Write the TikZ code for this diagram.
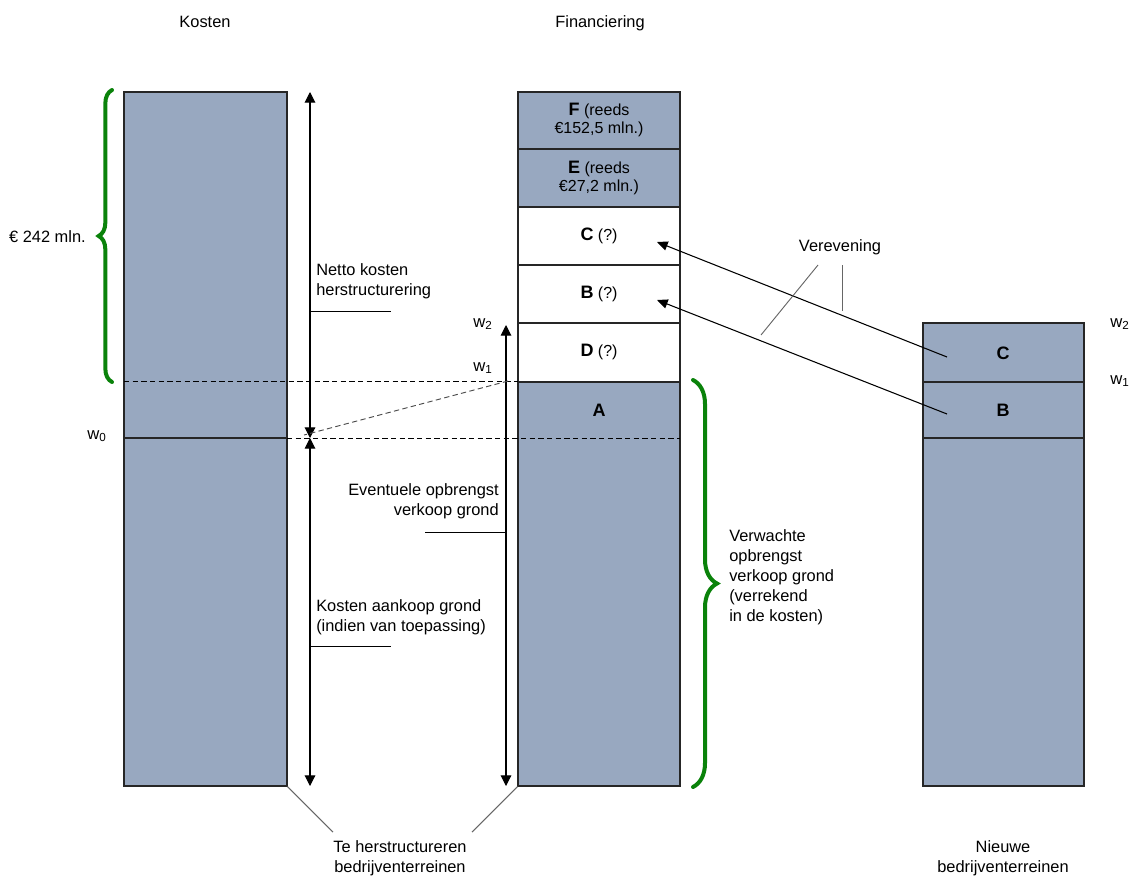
\documentclass[tikz,border=0pt]{standalone}
\usepackage{fontspec}
\setmainfont{Liberation Sans}
\usetikzlibrary{arrows.meta,fit,decorations.pathreplacing}
\definecolor{barfill}{RGB}{152,168,192}
\definecolor{bracegreen}{RGB}{10,130,10}
\begin{document}
\begin{tikzpicture}[x=0.75pt,y=-0.75pt,
  seg/.style={draw=black!85, line width=0.8pt, inner sep=0pt, fill=barfill},
  wseg/.style={seg, fill=white},
  lbl/.style={font=\fontsize{12.3}{15}\selectfont, inner sep=0pt},
  boxlbl/.style={font=\fontsize{12}{13.5}\selectfont, inner sep=0pt, align=center},
  wlbl/.style={font=\fontsize{12.5}{14}\selectfont, inner sep=0pt, anchor=west},
  dimarrow/.style={line width=0.8pt, {Triangle[length=8pt,width=8pt]}-{Triangle[length=8pt,width=8pt]}},
  onearrow/.style={line width=0.8pt, -{Triangle[length=8pt,width=7pt]}},
  leader/.style={line width=0.7pt},
  gleader/.style={line width=0.8pt, draw=black!60},
  dsh/.style={dash pattern=on 4pt off 2.5pt, line width=0.7pt},
  brc/.style={draw=bracegreen, line width=3pt, decorate, line cap=round}
]
\useasboundingbox (0,0) rectangle (1134,879);

% titles
\node[lbl, anchor=base] (tkost) at (205,27) {Kosten};
\node[lbl, anchor=base] (tfin) at (600,27) {Financiering};

% Kosten bar
\node[seg, fit={(124,92) (287,786)}] (kost) {};
\coordinate (k381) at (124,381);
\coordinate (k438l) at (124,438);
\coordinate (k438r) at (287,438);
\draw[line width=0.8pt, draw=black!85] (k438l) -- (k438r);

% Financiering bar
\node[seg, fit={(518,92) (680,149)}] (fF) {};
\node[seg, fit={(518,149) (680,207)}] (fE) {};
\node[wseg, fit={(518,207) (680,265)}] (fC) {};
\node[wseg, fit={(518,265) (680,323)}] (fB) {};
\node[wseg, fit={(518,323) (680,382)}] (fD) {};
\node[seg, fit={(518,382) (680,786)}] (fA) {};

\node[boxlbl] (lF) at (599,120) {{\fontsize{13.5}{13}\selectfont\textbf{F}} (reeds\\€152,5 mln.)};
\node[boxlbl] (lE) at (599,178) {{\fontsize{13.5}{13}\selectfont\textbf{E}} (reeds\\€27,2 mln.)};
\node[boxlbl] (lC) at (599,236) {{\fontsize{13.5}{13}\selectfont\textbf{C}} (?)};
\node[boxlbl] (lB) at (599,294) {{\fontsize{13.5}{13}\selectfont\textbf{B}} (?)};
\node[boxlbl] (lD) at (599,352) {{\fontsize{13.5}{13}\selectfont\textbf{D}} (?)};
\node[boxlbl] (lA) at (599,410) {{\fontsize{13.5}{13}\selectfont\textbf{A}}};

% right bar
\node[seg, fit={(923,323) (1084,382)}] (nC) {};
\node[seg, fit={(923,382) (1084,438)}] (nB) {};
\node[seg, fit={(923,438) (1084,786)}] (nR) {};
\node[boxlbl] (lnC) at (1003,353) {{\fontsize{13.5}{13}\selectfont\textbf{C}}};
\node[boxlbl] (lnB) at (1003,410) {{\fontsize{13.5}{13}\selectfont\textbf{B}}};

% dashed lines
\coordinate (d381r) at (518,381);
\coordinate (d438r) at (680,438);
\draw[dsh] (k381) -- (d381r);
\draw[dsh] (k438r) -- (d438r);

% dimension arrows, left
\coordinate (a1t) at (310,92);
\coordinate (a1m) at (310,438);
\coordinate (a1b) at (310,786);
\draw[dimarrow] (a1t) -- (a1m);
\draw[dimarrow] (a1m) -- (a1b);

% dimension arrow, middle
\coordinate (a2t) at (506,325);
\coordinate (a2b) at (506,786);
\draw[dimarrow] (a2t) -- (a2b);

% diagonal dashed
\coordinate (dg1) at (508,381);
\coordinate (dg2) at (304,435);
\draw[dsh, draw=black!70] (dg1) -- (dg2);

% w labels
\node[wlbl] (w2m) at (473,324) {w\textsubscript{2}};
\node[wlbl] (w1m) at (473,368) {w\textsubscript{1}};
\node[wlbl] (w0k) at (87,436) {w\textsubscript{0}};
\node[wlbl] (w2n) at (1110,324) {w\textsubscript{2}};
\node[wlbl] (w1n) at (1110,381) {w\textsubscript{1}};

% text labels with leaders
\node[lbl, anchor=west, align=left] (tnetto) at (316,281) {Netto kosten\\herstructurering};
\coordinate (ln1a) at (310,311); \coordinate (ln1b) at (391,311);
\draw[leader] (ln1a) -- (ln1b);

\node[lbl, anchor=east, align=right] (tevent) at (499,501) {Eventuele opbrengst\\verkoop grond};
\coordinate (ln2a) at (425,532); \coordinate (ln2b) at (506,532);
\draw[leader] (ln2a) -- (ln2b);

\node[lbl, anchor=west, align=left] (taank) at (316,617) {Kosten aankoop grond\\(indien van toepassing)};
\coordinate (ln3a) at (310,646); \coordinate (ln3b) at (391,646);
\draw[leader] (ln3a) -- (ln3b);

% braces
\coordinate (b1s) at (112,382); \coordinate (b1e) at (112,90);
\draw[brc, decoration={brace, amplitude=10pt}] (b1s) -- (b1e);
\node[lbl, anchor=east] (t242) at (86,237) {€ 242 mln.};

\coordinate (b2s) at (693,380); \coordinate (b2e) at (693,787);
\draw[brc, decoration={brace, amplitude=18pt}] (b2s) -- (b2e);
\node[lbl, anchor=west, align=left] (tverw) at (729,577) {Verwachte\\opbrengst\\verkoop grond\\(verrekend\\in de kosten)};

% verevening arrows
\coordinate (vc1) at (947,357); \coordinate (vc2) at (657,242);
\coordinate (vb1) at (947,414); \coordinate (vb2) at (657,300);
\draw[onearrow] (vc1) -- (vc2);
\draw[onearrow] (vb1) -- (vb2);
\node[lbl] (tvere) at (840,247) {Verevening};
\coordinate (vl1a) at (818,265); \coordinate (vl1b) at (761,335);
\coordinate (vl2a) at (842,265); \coordinate (vl2b) at (842,311);
\draw[gleader, line width=0.7pt] (vl1a) -- (vl1b);
\draw[gleader, line width=0.7pt] (vl2a) -- (vl2b);

% bottom labels
\node[lbl, align=center] (tteh) at (400,858) {Te herstructureren\\bedrijventerreinen};
\coordinate (bl1) at (333,832); \coordinate (bl2) at (472,832);
\draw[gleader] (kost.south east) -- (bl1);
\draw[gleader] (fA.south west) -- (bl2);
\node[lbl, align=center] (tnieuw) at (1003,858) {Nieuwe\\bedrijventerreinen};
\end{tikzpicture}
\end{document}
